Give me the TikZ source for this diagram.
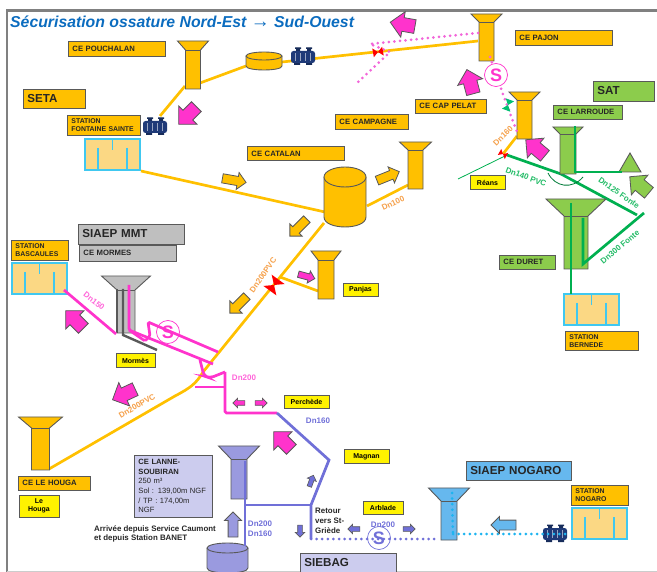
\documentclass[tikz,border=0pt]{standalone}
\usepackage{fontspec}
\setmainfont{Liberation Sans}
\usetikzlibrary{shapes.arrows}
\definecolor{ceorange}{HTML}{FFC000}
\definecolor{cegreen}{HTML}{8CCC4C}
\definecolor{cegrey}{HTML}{BFBFBF}
\definecolor{celav}{HTML}{CCCCEE}
\definecolor{cetower}{HTML}{9A9ADF}
\definecolor{ceblue}{HTML}{66B8EE}
\definecolor{edgegrey}{HTML}{595959}
\definecolor{pipegreen}{HTML}{00B050}
\definecolor{pipepink}{HTML}{FF33CC}
\definecolor{dotpink}{HTML}{F266D9}
\definecolor{pipeviolet}{HTML}{7070D8}
\definecolor{pipecyan}{HTML}{1EB4F0}
\definecolor{stationfill}{HTML}{FBD884}
\definecolor{stationedge}{HTML}{40C8F0}
\definecolor{pumpnavy}{HTML}{1F3A78}
\definecolor{dnorange}{HTML}{F5A04A}
\definecolor{dngreen}{HTML}{22BB66}
\definecolor{titleblue}{HTML}{0B6CBF}
\tikzset{
    cebox/.style={draw=edgegrey,line width=0.9pt,anchor=west,fill=ceorange,text width=#1-8pt,inner xsep=4pt,inner ysep=2pt,
        align=left,font=\bfseries\fontsize{7.7}{9}\selectfont,text=black!85},
    stbox/.style={cebox=#1,inner ysep=3.2pt,font=\bfseries\fontsize{6.9}{8.2}\selectfont},
    groupbox/.style={cebox=#1,font=\bfseries\fontsize{11.6}{12}\selectfont},
    yellowbox/.style={draw=edgegrey,line width=0.9pt,fill=yellow,align=center,minimum width=#1,minimum height=13.5pt,inner sep=1pt,
        font=\bfseries\fontsize{7}{8.4}\selectfont},
    dn/.style={font=\bfseries\fontsize{8}{9}\selectfont,text=#1,inner sep=0pt},
    plain/.style={font=\bfseries\fontsize{7.9}{9.8}\selectfont,align=left,anchor=west,inner sep=0pt,text=black!85},
    orangepipe/.style={draw=ceorange,line width=2.7pt},
    greenpipe/.style={draw=pipegreen,line width=2.7pt},
    pinkpipe/.style={draw=pipepink,line width=2.7pt,rounded corners=1.5pt},
    violetpipe/.style={draw=pipeviolet,line width=2.7pt},
    dotpipe/.style={draw=#1,line width=3pt,line cap=round,dash pattern=on 0pt off 5.6pt},
    blockarrow/.style={single arrow,draw=edgegrey,line width=0.8pt,fill=#1,inner sep=6.5pt,minimum height=25pt,
        single arrow head extend=6pt,anchor=center},
    orangearrow/.style={blockarrow=ceorange,inner sep=4.2pt,single arrow head extend=4pt,minimum height=24pt},
    smallarrow/.style={single arrow,draw=edgegrey,line width=0.6pt,fill=#1,inner sep=2pt,minimum height=12pt,
        single arrow head extend=2.5pt,anchor=center},
    ssym/.style={circle,draw=#1,line width=0.7pt,minimum size=23pt,inner sep=0pt,text=#1,font=\bfseries\fontsize{18}{18}\selectfont},
    pics/tower/.style n args={5}{code={
        \draw[edgegrey,line width=0.9pt,fill=#5] (-#1,0) -- (#1,0) -- (#2,#3) -- (#2,#4) -- (-#2,#4) -- (-#2,#3) -- cycle;
        \draw[edgegrey,line width=0.9pt] (-#2,#3) -- (#2,#3);
    }},
    pics/tank/.style n args={4}{code={
        \draw[edgegrey,line width=0.9pt,fill=#4] (-#1,0) -- (-#1,#3) .. controls (-#1,#3+1.33*#2) and (#1,#3+1.33*#2) .. (#1,#3) -- (#1,0);
        \draw[edgegrey,line width=0.9pt,fill=#4] (0,0) ellipse (#1 and #2);
    }},
    pics/station/.style={code={
        \draw[stationedge,line width=1.2pt,fill=stationfill] (0,0) rectangle (55,31);
        \draw[stationedge,line width=1.2pt] (13,9) -- (13,31) (42,9) -- (42,31) (27.5,0) -- (27.5,11);
    }},
    pics/pump/.style={code={
        \fill[pumpnavy!75!black] (-7,-9) rectangle (-3,-3) (4,-9) rectangle (8,-3) (-9,3) rectangle (-3,8) (3,3) rectangle (9,8);
        \fill[pumpnavy!75!black] (-8,-9.5) rectangle (-2,-8) (3,-9.5) rectangle (9,-8);
        \fill[pumpnavy,rounded corners=2.5pt] (-12,-6) rectangle (12,6);
        \draw[pumpnavy!45!white,line width=0.6pt] (-8,-4) -- (-8,4) (-3,-4) -- (-3,4) (2,-4) -- (2,4) (7,-4) -- (7,4);
    }},
    pics/bowtie/.style n args={3}{code={
        \fill[#3] (0,0) -- (-#1,-#2) -- (-#1,#2) -- cycle (0,0) -- (#1,-#2) -- (#1,#2) -- cycle;
    }}
}
\begin{document}
\begin{tikzpicture}[x=1pt,y=-1pt]
    \useasboundingbox (0,0) rectangle (657,572);
    \draw[gray,line width=2.6pt] (7,572) -- (7,10.5) -- (657,10.5);
    \draw[gray!40,line width=0.8pt] (7,571.5) -- (657,571.5);
    \node (title) [anchor=west,inner sep=0pt,text=titleblue,font=\bfseries\itshape\fontsize{15.8}{17}\selectfont] at (10,21.5) {Sécurisation ossature Nord-Est {\fontsize{19}{17}\selectfont →} Sud-Ouest};

    % coordinates of the pipe ends
    \coordinate (pouchalanA) at (185,86);
    \coordinate (pouchalanB) at (200,83);
    \coordinate (pumpA) at (160,116);
    \coordinate (tankA) at (246,66);
    \coordinate (tankB) at (282,62);
    \coordinate (pajonA) at (478,41);
    \coordinate (fontaine) at (141,171);
    \coordinate (catalanA) at (325,212);
    \coordinate (catalanB) at (367,206);
    \coordinate (catalanC) at (324,223);
    \coordinate (campagne) at (408,185);
    \coordinate (coude) at (203,372);
    \coordinate (coudeB) at (175,396);
    \coordinate (houga) at (49,469);
    \coordinate (panjasA) at (280,277);
    \coordinate (panjasB) at (318,291);
    \coordinate (pelatA) at (517,136);
    \coordinate (reansA) at (503,154);
    \coordinate (reansB) at (507,155);
    \coordinate (reansC) at (458,179);
    \coordinate (larroudeA) at (561,174);
    \coordinate (larroudeB) at (575,126);
    \coordinate (larroudeC) at (575,172);
    \coordinate (triangleA) at (622,172);
    \coordinate (fonteA) at (637,215);
    \coordinate (fonteB) at (644,213);
    \coordinate (fonteC) at (583,264);
    \coordinate (fonteD) at (583,218);
    \coordinate (duretA) at (571,203);
    \coordinate (bernede) at (571,294);
    \coordinate (bascaules) at (64,290);
    \coordinate (mormesA) at (116,334);
    \coordinate (mormesB) at (129,285);
    \coordinate (mormesC) at (129,330);
    \coordinate (mormesD) at (213,364);
    \coordinate (mormesE) at (218,352);
    \coordinate (mormesF) at (148,322);
    \coordinate (mormesG) at (145,341);
    \coordinate (mormesH) at (150,336);
    \coordinate (dnA) at (200,360);
    \coordinate (dnB) at (204,376);
    \coordinate (dnC) at (210,378);
    \coordinate (dnD) at (225,372);
    \coordinate (dnE) at (225,413);
    \coordinate (dnF) at (195,387);
    \coordinate (dnG) at (225,387);
    \coordinate (perchede) at (277,413);
    \coordinate (magnan) at (329,460);
    \coordinate (retourA) at (311,505);
    \coordinate (retourB) at (311,539);
    \coordinate (lanneA) at (245,461);
    \coordinate (lanneB) at (245,505);
    \coordinate (lanneC) at (245,546);
    \coordinate (siaepA) at (438,539);
    \coordinate (nogaroA) at (453,534);
    \coordinate (nogaroB) at (452,493);
    \coordinate (nogaroC) at (570,534);
    \coordinate (dotA) at (490,57);
    \coordinate (dotB) at (500,86);
    \coordinate (dotC) at (517,132);
    \coordinate (dotD) at (478,33);
    \coordinate (dotE) at (370,44);
    \coordinate (dotF) at (390,52);
    \coordinate (dotG) at (358,82);

    % pipes below the towers
    \draw[greenpipe] (reansB) -- (larroudeA) -- (fonteA);
    \draw[greenpipe,line width=0.8pt] (reansC) -- (reansB);
    \draw[orangepipe] (pelatA) -- (reansA);
    \draw[orangepipe] (pouchalanA) -- (pumpA);
    \draw[orangepipe] (pouchalanB) -- (tankA);
    \draw[orangepipe] (tankB) -- (pajonA);
    \draw[orangepipe] (fontaine) -- (catalanA);
    \draw[orangepipe] (catalanB) -- (campagne);
    \draw[orangepipe] (catalanC) -- (coude) .. controls (196,384) and (190,388) .. (coudeB) -- (houga);
    \draw[orangepipe] (panjasA) -- (panjasB);

    % towers
    \pic at (193,41) {tower={15.5}{7.5}{9}{48}{ceorange}};
    \pic at (486.5,14) {tower={15.5}{7.5}{8}{47}{ceorange}};
    \pic at (524.5,92) {tower={15.5}{7.5}{8}{47}{ceorange}};
    \pic at (415.5,142) {tower={16}{7.5}{8}{47}{ceorange}};
    \pic at (568,127) {tower={15}{8}{7}{47}{cegreen}};
    \pic at (576,199) {tower={30}{12}{17}{70}{cegreen}};
    \pic at (326,251) {tower={15}{8}{9}{48}{ceorange}};
    \pic at (126,276) {tower={24.5}{9}{14}{57}{cegrey}};
    \pic at (40.5,417) {tower={22}{9}{11}{53}{ceorange}};
    \pic at (239,446) {tower={20.5}{8}{13}{53}{cetower}};
    \pic at (449,488) {tower={20.5}{8}{13}{52}{ceblue}};

    % tanks and stations
    \pic at (345,177) {tank={21}{10}{40}{ceorange}};
    \pic at (264,56) {tank={18}{4}{10}{ceorange}};
    \pic at (227.5,548) {tank={20.5}{5}{20}{cetower}};
    \pic at (85,139) {station};
    \pic at (12,263) {station};
    \pic at (564,294) {station};
    \pic at (572,508) {station};
    \pic at (155,127) {pump};
    \pic at (303,57) {pump};
    \pic at (555,534) {pump};
    \draw[edgegrey,line width=0.9pt,fill=cegreen] (630,153) -- (641,172) -- (619,172) -- cycle;

    % pipes above the towers
    \draw[greenpipe] (larroudeB) -- (larroudeC) -- (triangleA);
    \draw[greenpipe] (fonteD) -- (fonteC) -- (fonteB);
    \draw[greenpipe] (duretA) -- (bernede);
    \draw[pipegreen!70!black,line width=0.8pt] (548,173) .. controls (555,187) and (572,190) .. (583,177);
    \draw[edgegrey,line width=2.4pt] (117,289) -- (117,333);
    \draw[edgegrey,line width=2.4pt] (123,289) -- (123,335) -- (157,350);
    \draw[pinkpipe] (bascaules) -- (mormesA);
    \draw[pinkpipe] (mormesB) -- (mormesC) -- (mormesD);
    \draw[pinkpipe] (mormesC) -- (mormesG) -- (mormesH) -- (mormesF) -- (mormesE);
    \draw[pinkpipe,rounded corners=4pt] (dnA) -- (dnB) -- (dnC) -- (dnD);
    \draw[pinkpipe] (dnD) -- (dnE) -- (perchede);
    \draw[pinkpipe] (dnF) -- (dnG);
    \draw[violetpipe] (perchede) -- (magnan) -- (retourA) -- (retourB);
    \draw[violetpipe] (retourA) -- (lanneB);
    \draw[violetpipe] (lanneA) -- (lanneC);
    \draw[dotpipe=pipeviolet] (retourB) -- (siaepA);
    \draw[dotpipe=pipecyan] (nogaroA) -- (nogaroC);
    \draw[dotpipe=pipecyan] (nogaroB) -- (nogaroA);
    \draw[dotpipe=dotpink] (dotD) -- (dotE) -- (dotF) -- (dotG);
    \draw[dotpipe=dotpink] (dotA) -- (dotB) -- (dotC);

    % valves
    \pic[rotate=10] at (378,52) {bowtie={5}{4.5}{red}};
    \pic[rotate=-30] at (503,154) {bowtie={4}{3.5}{red}};
    \pic[rotate=54] at (274,285) {bowtie={7}{8}{red}};
    \pic[rotate=70] at (508,105) {bowtie={5.5}{4.5}{pipegreen!80!cyan}};

    % S marks
    \node (sPajon) [ssym=pipepink,fill=white] at (496,75) {S};
    \node (sMormes) [ssym=pipepink] at (168,332) {S};
    \node (sArblade) [ssym=pipeviolet] at (379,538) {S};

    % block arrows
    \node (flowA) [blockarrow=pipepink,rotate=225] at (190,113) {};
    \node (flowB) [blockarrow=pipepink,rotate=170] at (406,25) {};
    \node (flowC) [blockarrow=pipepink,rotate=105] at (471,85) {};
    \node (flowD) [blockarrow=pipepink,rotate=140] at (538,150) {};
    \node (flowE) [blockarrow=cegreen,rotate=140] at (642,187) {};
    \node (flowF) [orangearrow,rotate=-10] at (232,180) {};
    \node (flowG) [orangearrow,rotate=22] at (386,177) {};
    \node (flowH) [orangearrow,rotate=225] at (300,226) {};
    \node (flowI) [orangearrow,rotate=225] at (240,303) {};
    \node (flowJ) [blockarrow=pipepink,rotate=-15,inner sep=2.8pt,single arrow head extend=3pt,minimum height=17pt] at (305,276) {};
    \node (flowK) [blockarrow=pipepink,rotate=135] at (77,322) {};
    \node (flowL) [blockarrow=pipepink,rotate=205] at (127,393) {};
    \node (flowM) [blockarrow=pipepink,rotate=135] at (285,443) {};
    \node (flowN) [smallarrow=pipepink,rotate=180] at (240,403) {};
    \node (flowO) [smallarrow=pipepink] at (260,403) {};
    \node (flowP) [smallarrow=pipeviolet,rotate=70] at (311,482) {};
    \node (flowQ) [smallarrow=pipeviolet,rotate=270] at (300,530) {};
    \node (flowR) [smallarrow=pipeviolet,rotate=180] at (355,529) {};
    \node (flowS) [smallarrow=pipeviolet] at (408,529) {};
    \node (flowT) [blockarrow=cetower,rotate=90,inner sep=4.5pt,single arrow head extend=3.5pt] at (233,527) {};
    \node (flowU) [blockarrow=ceblue,rotate=180,inner sep=4.5pt,single arrow head extend=3.5pt] at (506,525) {};

    % labels
    \node (cePouchalan) [cebox=97pt,minimum height=15pt] at (68,48.5) {CE POUCHALAN};
    \node (seta) [groupbox=62pt,minimum height=19pt,fill=ceorange] at (23,98.5) {SETA};
    \node (stFontaine) [stbox=73pt] at (67,125.5) {STATION\\FONTAINE SAINTE};
    \node (ceCatalan) [cebox=97pt,minimum height=14pt] at (247,153.5) {CE CATALAN};
    \node (ceCampagne) [cebox=73pt,minimum height=15pt] at (335,121.5) {CE CAMPAGNE};
    \node (ceCapPelat) [cebox=71pt,minimum height=14pt] at (415,106) {CE CAP PELAT};
    \node (cePajon) [cebox=97pt,minimum height=15pt] at (515,37.5) {CE PAJON};
    \node (sat) [groupbox=61pt,minimum height=20pt,fill=cegreen] at (593,91) {SAT};
    \node (ceLarroude) [cebox=69pt,minimum height=14pt,fill=cegreen] at (553,112) {CE LARROUDE};
    \node (ceDuret) [cebox=56pt,minimum height=14pt,fill=cegreen] at (499,262) {CE DURET};
    \node (stBernede) [stbox=73pt] at (565,341) {STATION\\BERNEDE};
    \node (siaepMmt) [groupbox=106pt,minimum height=20pt,fill=cegrey] at (78,234) {SIAEP MMT};
    \node (ceMormes) [cebox=97pt,minimum height=16pt,fill=cegrey] at (79,253) {CE MORMES};
    \node (stBascaules) [stbox=57pt] at (11,250.5) {STATION\\BASCAULES};
    \node (mormes) [yellowbox=39pt] at (135.5,360.5) {Mormès};
    \node (panjas) [yellowbox=35pt] at (360.5,290) {Panjas};
    \node (reans) [yellowbox=35pt] at (487.5,182.5) {Réans};
    \node (perchedeLbl) [yellowbox=45pt] at (306.5,402) {Perchède};
    \node (magnanLbl) [yellowbox=45pt] at (366.5,456.5) {Magnan};
    \node (arblade) [yellowbox=40pt] at (383,508) {Arblade};
    \node (leHouga) [yellowbox=40pt,minimum height=22pt] at (39,506) {Le\\Houga};
    \node (ceLeHouga) [cebox=72pt,minimum height=14pt] at (18,483) {CE LE HOUGA};
    \node (ceLanne) [cebox=78pt,minimum height=62pt,fill=celav,font=\fontsize{7.6}{9.7}\selectfont] at (134,486) {{\bfseries CE LANNE-\\SOUBIRAN}\\250 m³\\Sol : 139,00m NGF\\/ TP : 174,00m\\NGF};
    \node (siebag) [groupbox=96pt,minimum height=19pt,fill=celav] at (300,562.5) {SIEBAG};
    \node (siaepNogaro) [groupbox=105pt,minimum height=19pt,fill=ceblue] at (466,470.5) {SIAEP NOGARO};
    \node (stNogaro) [stbox=57pt] at (571,495.5) {STATION\\NOGARO};
    \node (retour) [plain] at (315,521) {Retour\\vers St-\\Griède};
    \node (arrivee) [plain] at (94,534) {Arrivée depuis Service Caumont\\et depuis Station BANET};

    % diameters
    \node (dnBascaules) [dn=pipepink!75,rotate=-38] at (94,301) {Dn150};
    \node (dnMain) [dn=dnorange,rotate=55] at (263,275) {Dn200PVC};
    \node (dnPink) [dn=pipepink!75] at (244,378) {Dn200};
    \node (dnHouga) [dn=dnorange,rotate=30] at (137,406) {Dn200PVC};
    \node (dnMagnan) [dn=pipeviolet] at (318,421) {Dn160};
    \node (dnLanneA) [dn=pipeviolet] at (260,524) {Dn200};
    \node (dnLanneB) [dn=pipeviolet] at (260,534) {Dn160};
    \node (dnArblade) [dn=pipeviolet] at (383,525) {Dn200};
    \node (dnCampagne) [dn=dnorange,rotate=25] at (393,203) {Dn100};
    \node (dnPelat) [dn=dnorange,rotate=45] at (503,136) {Dn160};
    \node (dnReans) [dn=dngreen,rotate=-20] at (526,177) {Dn140 PVC};
    \node (dnTriangle) [dn=dngreen,rotate=-35] at (619,193) {Dn125 Fonte};
    \node (dnDuret) [dn=dngreen,rotate=40] at (620,247) {Dn300 Fonte};
\end{tikzpicture}
\end{document}
